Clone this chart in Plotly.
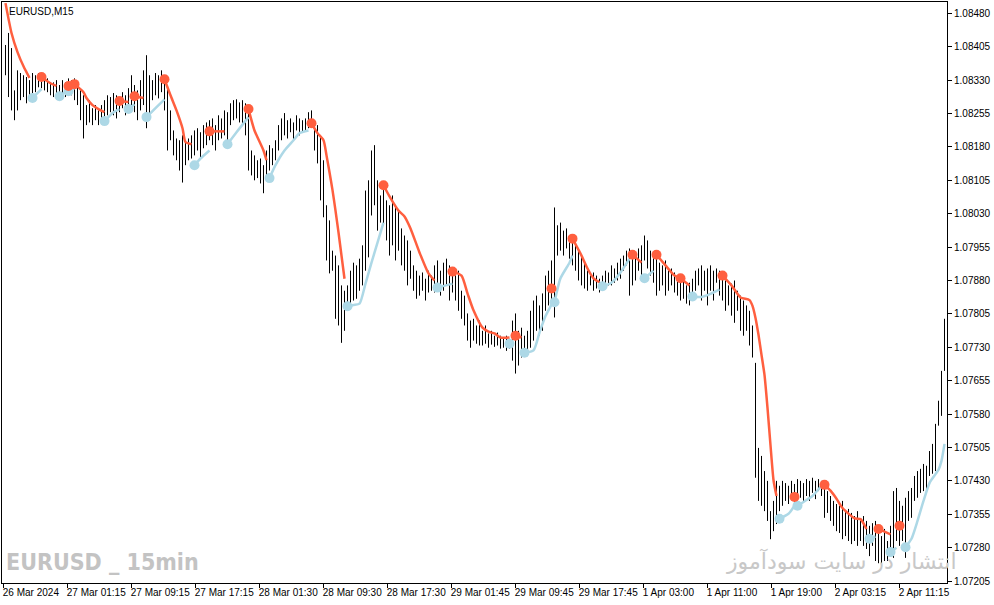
import plotly.graph_objects as go

# ---------------- data (prices in points above BASE, 1 point = 0.00001) ----------------
BASE = 1.07
SCALE = 100000.0

highs_pts = [
    1409, 1436, 1402, 1307, 1352, 1346, 1341, 1337, 1330, 1346,
    1341, 1346, 1341, 1330, 1334, 1325, 1325, 1330, 1319, 1330,
    1325, 1334, 1330, 1334, 1325, 1307, 1296, 1274, 1285, 1267,
    1274, 1262, 1274, 1285, 1296, 1292, 1301, 1296, 1289, 1303,
    1296, 1312, 1341, 1319, 1307, 1330, 1352, 1386, 1341, 1330,
    1346, 1341, 1352, 1341, 1314, 1262, 1217, 1199, 1195, 1206,
    1195, 1199, 1206, 1217, 1222, 1213, 1229, 1235, 1240, 1244,
    1229, 1251, 1244, 1262, 1258, 1278, 1285, 1287, 1280, 1285,
    1278, 1269, 1172, 1161, 1150, 1154, 1139, 1172, 1184, 1177,
    1195, 1229, 1244, 1256, 1240, 1244, 1235, 1251, 1244, 1240,
    1244, 1258, 1262, 1240, 1229, 1206, 1150, 1049, 1015, 947,
    936, 914, 869, 857, 869, 902, 920, 914, 929, 959,
    1082, 1105, 1172, 1184, 1105, 1071, 1094, 1060, 1049, 1071,
    1049, 1037, 997, 981, 970, 947, 914, 902, 891, 898,
    884, 902, 891, 914, 925, 902, 920, 929, 914, 907,
    902, 902, 857, 846, 806, 790, 794, 779, 790, 767,
    779, 761, 767, 756, 763, 756, 752, 756, 749, 790,
    806, 767, 774, 756, 767, 812, 835, 846, 824, 851,
    891, 902, 925, 1044, 1004, 1010, 992, 997, 981, 970,
    974, 947, 936, 920, 902, 891, 898, 891, 884, 891,
    902, 898, 914, 907, 920, 929, 936, 947, 952, 947,
    936, 952, 959, 981, 970, 947, 936, 929, 920, 914,
    925, 902, 907, 898, 891, 884, 880, 869, 875, 884,
    902, 907, 914, 902, 907, 914, 902, 907, 902, 891,
    880, 869, 873, 880, 857, 846, 835, 824, 812, 779,
    695, 504, 486, 452, 430, 362, 385, 430, 419, 430,
    425, 419, 430, 423, 434, 430, 425, 434, 430, 437,
    430, 434, 430, 423, 407, 396, 385, 378, 374, 385,
    362, 367, 358, 351, 362, 340, 351, 340, 329, 335,
    340, 317, 306, 322, 295, 329, 407, 414, 385, 374,
    392, 407, 414, 441, 452, 457, 468, 464, 497, 513,
    558, 610, 677, 794,
]

lows_pts = [
    1341, 1292, 1262, 1240, 1262, 1285, 1292, 1278, 1285, 1301,
    1303, 1314, 1312, 1307, 1303, 1296, 1292, 1296, 1285, 1296,
    1292, 1303, 1296, 1285, 1274, 1240, 1199, 1229, 1235, 1229,
    1240, 1229, 1235, 1244, 1251, 1258, 1251, 1244, 1258, 1267,
    1251, 1262, 1274, 1258, 1240, 1262, 1274, 1222, 1251, 1285,
    1296, 1289, 1303, 1262, 1172, 1195, 1161, 1150, 1127, 1100,
    1139, 1150, 1154, 1161, 1172, 1157, 1177, 1184, 1195, 1184,
    1172, 1195, 1199, 1206, 1195, 1229, 1240, 1244, 1235, 1229,
    1206, 1127, 1116, 1105, 1110, 1098, 1076, 1110, 1127, 1139,
    1150, 1172, 1195, 1206, 1199, 1213, 1195, 1217, 1206, 1213,
    1217, 1222, 1229, 1172, 1143, 1060, 1022, 925, 896, 902,
    794, 779, 740, 767, 812, 824, 835, 839, 857, 869,
    902, 932, 1026, 1049, 992, 1010, 1004, 970, 936, 959,
    925, 947, 914, 902, 869, 884, 857, 839, 846, 857,
    835, 853, 857, 853, 869, 846, 857, 869, 835, 853,
    835, 812, 794, 779, 745, 729, 745, 738, 734, 734,
    738, 729, 736, 731, 734, 727, 729, 722, 727, 700,
    671, 689, 707, 711, 722, 729, 745, 767, 756, 767,
    812, 824, 835, 797, 936, 947, 936, 952, 929, 914,
    902, 880, 869, 862, 857, 869, 857, 862, 853, 857,
    862, 869, 869, 875, 880, 884, 902, 914, 846, 869,
    880, 902, 891, 925, 907, 891, 875, 846, 857, 869,
    846, 857, 869, 853, 846, 835, 839, 828, 824, 835,
    857, 869, 835, 857, 824, 857, 835, 875, 846, 835,
    812, 824, 801, 785, 812, 767, 756, 767, 734, 707,
    437, 385, 374, 362, 340, 299, 317, 333, 362, 374,
    385, 378, 396, 380, 389, 392, 385, 396, 385, 403,
    389, 407, 396, 347, 358, 340, 329, 317, 313, 299,
    306, 295, 288, 295, 284, 295, 284, 277, 261, 284,
    250, 245, 239, 250, 250, 272, 257, 295, 284, 295,
    257, 340, 347, 385, 392, 403, 407, 412, 441, 446,
    452, 554, 576, 677,
]

# indicator: falling (red) and rising (blue) segments as (bar index, points)
red_segments = [
    [(0, 1503), (2, 1436), (4, 1393), (6, 1361), (8, 1335)],
    [(12, 1337), (15, 1323), (17, 1317)],
    [(21, 1317), (23, 1321)],
    [(23, 1321), (26, 1303), (27, 1290), (29, 1274), (31, 1265), (33, 1258)],
    [(38, 1283), (41, 1281)],
    [(43, 1294), (46, 1290)],
    [(53, 1332), (55, 1296), (57, 1262), (59, 1222), (60, 1191), (62, 1186)],
    [(68, 1215), (73, 1215)],
    [(81, 1265), (83, 1217), (86, 1172), (87, 1150)],
    [(102, 1233), (104, 1211), (106, 1195), (107, 1161), (108, 1123), (109, 1083),
     (110, 1037), (111, 988), (112, 936), (113, 884)],
    [(126, 1094), (128, 1069), (131, 1037), (133, 1024), (135, 997), (138, 943),
     (141, 896), (143, 880)],
    [(149, 900), (152, 891), (154, 851), (156, 813), (159, 774), (161, 765),
     (163, 761), (165, 752), (168, 752)],
    [(170, 756), (172, 752)],
    [(182, 862)],
    [(189, 974), (192, 936), (194, 907), (196, 885), (198, 876)],
    [(209, 938), (212, 920)],
    [(217, 938), (220, 914), (223, 891), (225, 885)],
    [(225, 885), (228, 869)],
    [(239, 891), (242, 869), (245, 842), (248, 836), (249, 823), (250, 796),
     (251, 758), (252, 713), (253, 668), (254, 594), (255, 510), (256, 432), (257, 396)],
    [(263, 394)],
    [(273, 421), (275, 408), (277, 390), (279, 369), (283, 346), (285, 344), (287, 322)],
    [(291, 322), (295, 310)],
    [(298, 329)],
]

blue_segments = [
    [(9, 1290), (12, 1310)],
    [(18, 1294), (20, 1303)],
    [(21, 1305), (23, 1312)],
    [(33, 1238), (36, 1258), (38, 1265)],
    [(41, 1265), (43, 1276)],
    [(47, 1247), (50, 1267), (53, 1287)],
    [(63, 1139), (65, 1154), (68, 1172)],
    [(74, 1186), (77, 1213), (81, 1247)],
    [(88, 1110), (90, 1139), (93, 1172), (96, 1195), (98, 1211), (101, 1217)],
    [(114, 822), (116, 825), (118, 828), (120, 873), (122, 920), (124, 965), (126, 1010)],
    [(144, 864), (149, 873)],
    [(168, 738)],
    [(173, 718), (176, 723), (178, 763), (180, 800), (182, 826)],
    [(183, 831), (185, 885), (188, 920), (189, 936)],
    [(199, 867), (202, 875), (205, 898), (208, 929)],
    [(213, 885), (216, 902)],
    [(229, 844), (232, 843), (235, 850), (238, 860)],
    [(258, 345), (261, 356), (263, 374)],
    [(264, 374), (267, 387), (269, 396), (272, 419)],
    [(288, 300), (290, 305)],
    [(295, 270), (297, 280)],
    [(300, 281), (302, 300), (304, 340), (306, 385), (308, 425), (310, 445),
     (311, 455), (312, 475), (313, 513)],
]

# segments whose first point carries a signal dot (the first red one starts off-chart)
red_dot_segments = red_segments[1:]
blue_dot_segments = blue_segments

x_tick_labels = ["26 Mar 2024", "27 Mar 01:15", "27 Mar 09:15", "27 Mar 17:15",
                 "28 Mar 01:30", "28 Mar 09:30", "28 Mar 17:30", "29 Mar 01:45",
                 "29 Mar 09:45", "29 Mar 17:45", "1 Apr 03:00", "1 Apr 11:00",
                 "1 Apr 19:00", "2 Apr 03:15", "2 Apr 11:15"]
BARS_PER_LABEL = 64 / 3.0          # one time label every ~21.3 bars
y_tick_first, y_tick_step, y_tick_count = 1.07205, 0.00075, 18

# ---------------- build ----------------
def px(p):
    return BASE + p / SCALE

bx, by = [], []
for i, (h, l) in enumerate(zip(highs_pts, lows_pts)):
    bx += [i, i, None]
    by += [px(l), px(h), None]

def seg_xy(segs):
    xs, ys = [], []
    for s in segs:
        for (i, p) in s:
            xs.append(i)
            ys.append(px(p))
        xs.append(None)
        ys.append(None)
    return xs, ys

rx, ry = seg_xy(red_segments)
blx, bly = seg_xy(blue_segments)

RED = "#FF5F3F"
BLUE = "#ADD8E6"

fig = go.Figure()
fig.add_trace(go.Scatter(x=bx, y=by, mode="lines", line=dict(color="black", width=1),
                         hoverinfo="skip", showlegend=False))
fig.add_trace(go.Scatter(x=blx, y=bly, mode="lines",
                         line=dict(color=BLUE, width=2.5, shape="spline", smoothing=0.6),
                         hoverinfo="skip", showlegend=False))
fig.add_trace(go.Scatter(x=rx, y=ry, mode="lines",
                         line=dict(color=RED, width=2.5, shape="spline", smoothing=0.6),
                         hoverinfo="skip", showlegend=False))
fig.add_trace(go.Scatter(x=[s[0][0] for s in blue_dot_segments],
                         y=[px(s[0][1]) for s in blue_dot_segments],
                         mode="markers", marker=dict(color=BLUE, size=10),
                         hoverinfo="skip", showlegend=False))
fig.add_trace(go.Scatter(x=[s[0][0] for s in red_dot_segments],
                         y=[px(s[0][1]) for s in red_dot_segments],
                         mode="markers", marker=dict(color=RED, size=10),
                         hoverinfo="skip", showlegend=False))

n = len(highs_pts)
tickvals = [-0.567 + BARS_PER_LABEL * k for k in range(len(x_tick_labels))]
ytickvals = [y_tick_first + y_tick_step * k for k in range(y_tick_count)]

AXFONT = dict(family="Liberation Sans, Arial, sans-serif", size=10, color="black")

fig.update_layout(
    width=994, height=605,
    margin=dict(l=2, r=47, t=2, b=22, autoexpand=False),
    paper_bgcolor="white", plot_bgcolor="white",
    showlegend=False,
    xaxis=dict(range=[-1.1667, n - 0.1667], tickvals=tickvals, ticktext=x_tick_labels,
               ticks="outside", ticklen=4, tickcolor="black", tickangle=0,
               ticklabelposition="outside right", ticklabelshift=-2,
               ticklabeloverflow="allow",
               showline=True, linecolor="black", linewidth=1, mirror=True,
               showgrid=False, zeroline=False, tickfont=AXFONT, fixedrange=True),
    yaxis=dict(range=[1.072006, 1.085055], side="right", tickvals=ytickvals,
               ticktext=["%.5f" % v for v in ytickvals],
               ticks="outside", ticklen=4, tickcolor="black",
               ticklabeloverflow="allow",
               showline=True, linecolor="black", linewidth=1, mirror=True,
               showgrid=False, zeroline=False, tickfont=AXFONT, fixedrange=True),
    annotations=[
        dict(text="EURUSD,M15", xref="paper", yref="paper", x=0.0053, y=0.996,
             xanchor="left", yanchor="top", showarrow=False,
             font=dict(family="Liberation Sans, Arial, sans-serif", size=10, color="black")),
        dict(text="<b>EURUSD _ 15min</b>", xref="paper", yref="paper", x=0.0025, y=0.036,
             xanchor="left", yanchor="middle", showarrow=False,
             font=dict(family="DejaVu Sans Condensed, sans-serif",
                       size=23, color="#C3C3C3")),
        dict(text="انتشار در سایت سودآموز", xref="paper", yref="paper", x=0.8885, y=0.038,
             xanchor="center", yanchor="middle", showarrow=False,
             font=dict(family="DejaVu Sans, sans-serif", size=22, color="#C8C8C8")),
    ],
)

fig.write_html("out.html", config={"displayModeBar": False},
               post_script="document.body.style.margin='0';document.body.style.padding='0';")
